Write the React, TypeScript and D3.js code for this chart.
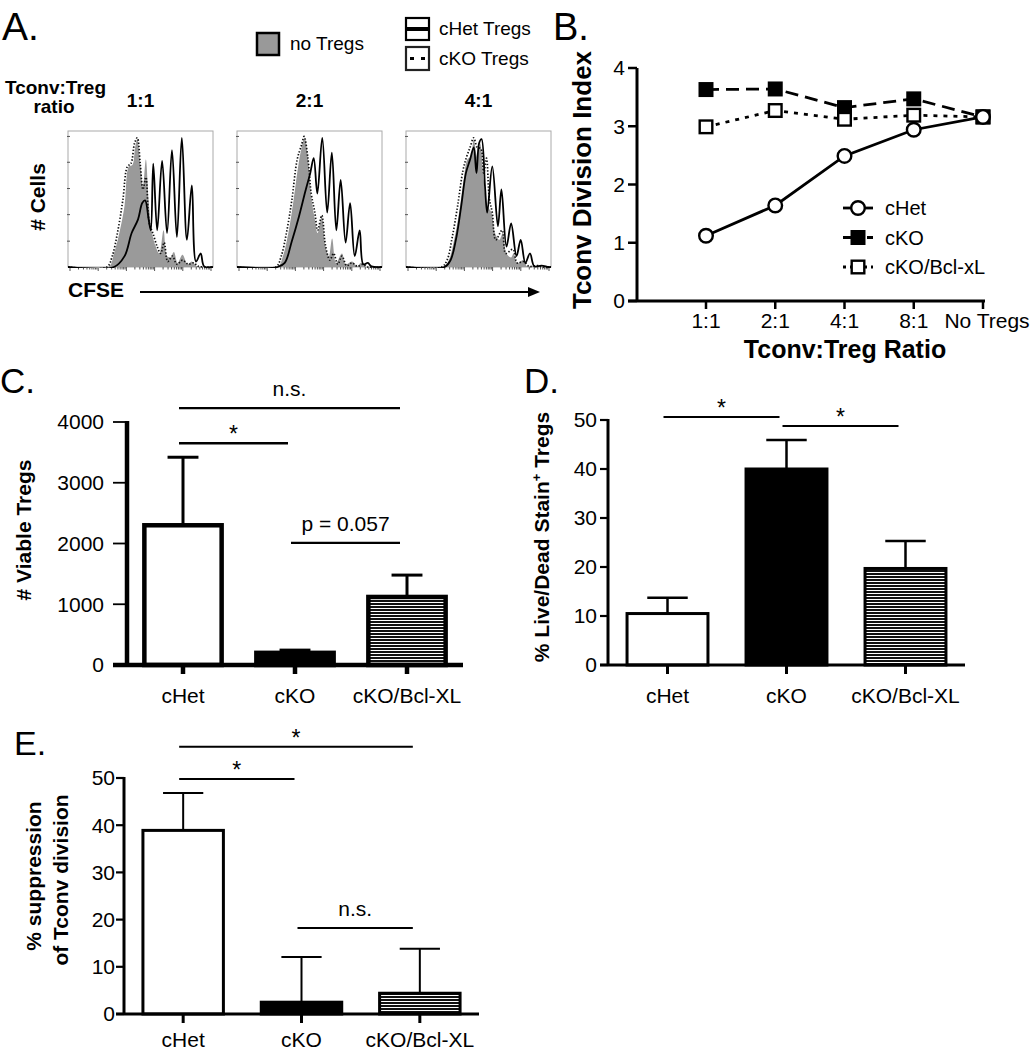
import React from 'react';
import * as d3 from 'd3';

const FONT = '"Liberation Sans", Arial, Helvetica, sans-serif';
type Pt = [number, number];

// ---------------- Panel A: CFSE histograms (x = fraction of CFSE axis, y = fraction of max count)
const histRatios = ['1:1', '2:1', '4:1'];

const noTregs1to1: Pt[] = [[0, 0], [0.28, 0], [0.317, 0.1], [0.354, 0.25], [0.39, 0.45], [0.42, 0.74], [0.444, 0.75], [0.463, 0.88], [0.478, 0.94], [0.5, 0.74], [0.517, 0.59], [0.537, 0.79], [0.556, 0.49], [0.576, 0.27], [0.605, 0.15], [0.63, 0.1], [0.659, 0.27], [0.683, 0.08], [0.707, 0.07], [0.73, 0.11], [0.756, 0.03], [0.79, 0.09], [0.824, 0.02], [0.853, 0.04], [0.89, 0.005], [0.976, 0], [1, 0]];
const cKO1to1: Pt[] = [[0, 0], [0.268, 0], [0.305, 0.08], [0.341, 0.25], [0.378, 0.49], [0.41, 0.74], [0.434, 0.76], [0.459, 0.91], [0.478, 0.95], [0.498, 0.76], [0.517, 0.57], [0.537, 0.66], [0.561, 0.32], [0.585, 0.25], [0.615, 0.15], [0.639, 0.1], [0.663, 0.18], [0.688, 0.04], [0.72, 0.08], [0.751, 0.02], [0.79, 0.05], [0.83, 0.02], [0.866, 0.03], [0.9, 0.005], [1, 0]];
const cHet1to1: Pt[] = [[0, 0], [0.317, 0], [0.39, 0.08], [0.439, 0.25], [0.483, 0.35], [0.512, 0.47], [0.532, 0.49], [0.556, 0.35], [0.571, 0.27], [0.588, 0.76], [0.615, 0.27], [0.649, 0.78], [0.683, 0.25], [0.717, 0.86], [0.751, 0.22], [0.785, 0.95], [0.82, 0.2], [0.854, 0.6], [0.883, 0.04], [0.915, 0.1], [0.939, 0.005], [1, 0]];

const noTregs2to1: Pt[] = [[0, 0], [0.28, 0], [0.317, 0.08], [0.354, 0.25], [0.39, 0.49], [0.422, 0.74], [0.446, 0.88], [0.466, 0.95], [0.49, 0.79], [0.515, 0.49], [0.537, 0.35], [0.556, 0.25], [0.585, 0.37], [0.61, 0.15], [0.634, 0.08], [0.656, 0.21], [0.683, 0.03], [0.724, 0.1], [0.749, 0.02], [0.793, 0.04], [0.83, 0.005], [0.854, 0.03], [0.89, 0], [1, 0]];
const cKO2to1: Pt[] = [[0, 0], [0.268, 0], [0.305, 0.08], [0.341, 0.25], [0.378, 0.49], [0.415, 0.79], [0.446, 0.9], [0.463, 0.96], [0.488, 0.81], [0.512, 0.54], [0.537, 0.4], [0.556, 0.27], [0.585, 0.38], [0.61, 0.16], [0.641, 0.05], [0.666, 0.1], [0.695, 0.02], [0.724, 0.08], [0.756, 0.01], [0.793, 0.03], [0.83, 0.005], [0.866, 0.02], [0.9, 0], [1, 0]];
const cHet2to1: Pt[] = [[0, 0], [0.28, 0], [0.329, 0.03], [0.378, 0.19], [0.427, 0.37], [0.471, 0.555], [0.505, 0.69], [0.529, 0.8], [0.554, 0.54], [0.588, 0.95], [0.622, 0.4], [0.654, 0.84], [0.685, 0.27], [0.715, 0.64], [0.749, 0.18], [0.78, 0.47], [0.812, 0.08], [0.846, 0.27], [0.871, 0.02], [0.902, 0.03], [0.927, 0.005], [1, 0]];

const noTregs4to1: Pt[] = [[0, 0], [0.258, 0], [0.295, 0.05], [0.332, 0.2], [0.369, 0.42], [0.398, 0.64], [0.423, 0.79], [0.447, 0.81], [0.467, 0.94], [0.491, 0.81], [0.511, 0.91], [0.536, 0.64], [0.56, 0.45], [0.59, 0.4], [0.614, 0.25], [0.644, 0.2], [0.668, 0.25], [0.693, 0.1], [0.725, 0.07], [0.742, 0.1], [0.767, 0.03], [0.806, 0.05], [0.835, 0.005], [0.885, 0.01], [0.934, 0], [1, 0]];
const cKO4to1: Pt[] = [[0, 0], [0.246, 0], [0.283, 0.05], [0.319, 0.22], [0.356, 0.45], [0.393, 0.71], [0.418, 0.81], [0.442, 0.88], [0.467, 0.95], [0.491, 0.88], [0.516, 0.87], [0.536, 0.69], [0.555, 0.8], [0.575, 0.5], [0.595, 0.4], [0.619, 0.2], [0.663, 0.27], [0.688, 0.1], [0.737, 0.13], [0.767, 0.03], [0.811, 0.04], [0.848, 0.005], [0.909, 0.01], [0.946, 0], [1, 0]];
const cHet4to1: Pt[] = [[0, 0], [0.265, 0], [0.307, 0.05], [0.344, 0.2], [0.381, 0.45], [0.413, 0.69], [0.442, 0.79], [0.467, 0.88], [0.486, 0.69], [0.504, 0.91], [0.521, 0.94], [0.545, 0.59], [0.56, 0.4], [0.595, 0.74], [0.634, 0.3], [0.658, 0.57], [0.693, 0.15], [0.725, 0.32], [0.762, 0.08], [0.791, 0.2], [0.823, 0.03], [0.855, 0.1], [0.885, 0.005], [0.934, 0.01], [0.983, 0], [1, 0]];

const countTicks = [0.19, 0.385, 0.577, 0.77, 0.96];

// ---------------- Panel B: division index
const ratioCats = ['1:1', '2:1', '4:1', '8:1', 'No Tregs'];
const divCHet = [1.12, 1.64, 2.49, 2.94, 3.16];
const divCKO = [3.63, 3.64, 3.32, 3.47, 3.16];
const divCKOBcl = [2.99, 3.27, 3.12, 3.19, 3.16];
const divTicks = [0, 1, 2, 3, 4];

// ---------------- Panels C, D, E
const groups = ['cHet', 'cKO', 'cKO/Bcl-XL'];
const viableMean = [2300, 200, 1120];
const viableSem = [1120, 45, 360];
const viableTicks = [0, 1000, 2000, 3000, 4000];
const viableSig = [
  { a: 0, b: 2, y: 4230, label: 'n.s.' },
  { a: 0, b: 1, y: 3650, label: '*' },
  { a: 1, b: 2, y: 2010, label: 'p = 0.057' },
];
const deadMean = [10.5, 40, 19.7];
const deadSem = [3.2, 5.9, 5.6];
const pctTicks = [0, 10, 20, 30, 40, 50];
const deadSig = [
  { a: 0, b: 1, y: 50.6, label: '*' },
  { a: 1, b: 2, y: 48.8, label: '*' },
];
const suppMean = [38.9, 2.5, 4.4];
const suppSem = [7.9, 9.6, 9.4];
const suppSig = [
  { a: 0, b: 2, y: 56.6, label: '*' },
  { a: 0, b: 1, y: 49.8, label: '*' },
  { a: 1, b: 2, y: 18.2, label: 'n.s.' },
];

// ---------------- layout
const A_BOX_X = [68, 237, 406];
const A_BOX_W = 145;
const A_TOP = 131;
const A_BOT = 267;

function PanelA() {
  const sets = [
    { none: noTregs1to1, het: cHet1to1, ko: cKO1to1 },
    { none: noTregs2to1, het: cHet2to1, ko: cKO2to1 },
    { none: noTregs4to1, het: cHet4to1, ko: cKO4to1 },
  ];
  return (
    <g>
      <text x={2} y={40} fontSize={39}>A.</text>
      {/* legend */}
      <rect x={257} y={33} width={22} height={22} fill="#999" stroke="#000" strokeWidth={2.5} />
      <text x={290} y={50} fontSize={19}>no Tregs</text>
      <rect x={406} y={18} width={23} height={22} fill="#fff" stroke="#000" strokeWidth={2.2} />
      <line x1={406} x2={429} y1={29} y2={29} stroke="#000" strokeWidth={4} />
      <text x={439} y={35} fontSize={19}>cHet Tregs</text>
      <rect x={406} y={47} width={23} height={23} fill="#fff" stroke="#222" strokeWidth={2.2} />
      <rect x={410} y={57} width={4} height={3} fill="#000" />
      <rect x={421} y={57} width={4} height={3} fill="#000" />
      <text x={439} y={65} fontSize={19}>cKO Tregs</text>

      <text x={5} y={94} fontSize={19} fontWeight="bold">Tconv:Treg</text>
      <text x={54} y={113} fontSize={19} fontWeight="bold" textAnchor="middle">ratio</text>

      <text transform={`translate(38,197) rotate(-90)`} dy="0.35em" textAnchor="middle" fontSize={21} fontWeight="bold"># Cells</text>

      {sets.map((s, i) => {
        const bx = A_BOX_X[i];
        const hx = d3.scaleLinear().domain([0, 1]).range([bx, bx + A_BOX_W]);
        const hy = d3.scaleLinear().domain([0, 1]).range([A_BOT, A_TOP]);
        const curve = d3.curveCatmullRom.alpha(0.5);
        const area = d3.area<Pt>().x((d) => hx(d[0])).y0(hy(0)).y1((d) => hy(d[1])).curve(curve);
        const line = d3.line<Pt>().x((d) => hx(d[0])).y((d) => hy(d[1])).curve(curve);
        const lx = d3.scaleLog().domain([1, 1e5]).range([bx + 2, bx + A_BOX_W - 2]);
        const lticks = lx.ticks();
        const clipId = `hclip${i}`;
        return (
          <g key={i}>
            <clipPath id={clipId}>
              <rect x={bx} y={A_TOP - 2} width={A_BOX_W} height={A_BOT - A_TOP + 3} />
            </clipPath>
            <text x={bx + A_BOX_W / 2} y={107} textAnchor="middle" fontSize={19} fontWeight="bold">{histRatios[i]}</text>
            <rect x={bx} y={A_TOP} width={A_BOX_W} height={A_BOT - A_TOP} fill="#fff" stroke="#aaa" strokeWidth={1} />
            {countTicks.map((t) => (
              <line key={t} x1={bx - 1} x2={bx + 2} y1={hy(t)} y2={hy(t)} stroke="#555" strokeWidth={1} />
            ))}
            {lticks.map((t, k) => {
              const major = Math.abs(Math.log10(t) - Math.round(Math.log10(t))) < 1e-9;
              return <line key={k} x1={lx(t)} x2={lx(t)} y1={A_BOT} y2={A_BOT + (major ? 4 : 2.5)} stroke="#555" strokeWidth={1} />;
            })}
            <g clipPath={`url(#${clipId})`}>
              <path d={area(s.none) || ''} fill="#9a9a9a" />
              <path d={line(s.ko) || ''} fill="none" stroke="#111" strokeWidth={1.7} strokeDasharray="1.4 1.8" />
              <path d={line(s.het) || ''} fill="none" stroke="#000" strokeWidth={1.8} />
            </g>
          </g>
        );
      })}

      <text x={68} y={297} fontSize={21} fontWeight="bold">CFSE</text>
      <line x1={140} x2={530} y1={292} y2={292} stroke="#000" strokeWidth={2} />
      <polygon points="528,287 540,292 528,297" fill="#000" />
    </g>
  );
}

function marker(kind: string, cx: number, cy: number, key?: string) {
  if (kind === 'circle') {
    return <circle key={key} cx={cx} cy={cy} r={6.8} fill="#fff" stroke="#000" strokeWidth={2.4} />;
  }
  const filled = kind === 'sqFilled';
  return <rect key={key} x={cx - 6.3} y={cy - 6.3} width={12.6} height={12.6} fill={filled ? '#000' : '#fff'} stroke="#000" strokeWidth={2.4} />;
}

function PanelB() {
  const x = d3.scalePoint<string>().domain(ratioCats).range([706, 983]);
  const y = d3.scaleLinear().domain([0, 4]).range([301, 68]);
  const series = [
    { name: 'cKO', values: divCKO, dash: '13 7', kind: 'sqFilled' },
    { name: 'cKO/Bcl-xL', values: divCKOBcl, dash: '4 6', kind: 'sqOpen' },
    { name: 'cHet', values: divCHet, dash: '', kind: 'circle' },
  ];
  const legend = [series[2], series[0], series[1]];
  const line = d3.line<number>().x((_, i) => x(ratioCats[i]) as number).y((d) => y(d));
  return (
    <g>
      <text x={553} y={40} fontSize={38}>B.</text>
      <line x1={637} x2={637} y1={y(4)} y2={y(0)} stroke="#000" strokeWidth={3} />
      <line x1={628} x2={985} y1={y(0)} y2={y(0)} stroke="#000" strokeWidth={3} />
      {divTicks.map((t) => (
        <g key={t}>
          <line x1={628} x2={637} y1={y(t)} y2={y(t)} stroke="#000" strokeWidth={2.5} />
          <text x={625} y={y(t)} dy="0.35em" textAnchor="end" fontSize={21}>{t}</text>
        </g>
      ))}
      {ratioCats.map((c) => (
        <g key={c}>
          <line x1={x(c)} x2={x(c)} y1={y(0)} y2={y(0) + 8} stroke="#000" strokeWidth={2.5} />
          <text x={(x(c) as number) + (c === 'No Tregs' ? 4 : 0)} y={328} textAnchor="middle" fontSize={21}>{c}</text>
        </g>
      ))}
      {series.map((s) => (
        <g key={s.name}>
          <path d={line(s.values) || ''} fill="none" stroke="#000" strokeWidth={2.8} strokeDasharray={s.dash || undefined} />
          {s.values.map((v, i) => marker(s.kind, x(ratioCats[i]) as number, y(v), s.name + i))}
        </g>
      ))}
      {legend.map((s, i) => {
        const ly = 208 + i * 29.5;
        return (
          <g key={s.name}>
            <line x1={843} x2={873} y1={ly} y2={ly} stroke="#000" strokeWidth={2.8} strokeDasharray={s.dash ? (s.dash === '13 7' ? '9 3' : '3 4') : undefined} />
            {marker(s.kind, 858, ly)}
            <text x={885} y={ly} dy="0.35em" fontSize={20}>{s.name}</text>
          </g>
        );
      })}
      <text transform={`translate(582,180) rotate(-90)`} dy="0.35em" textAnchor="middle" fontSize={26} fontWeight="bold">Tconv Division Index</text>
      <text x={845} y={358} textAnchor="middle" fontSize={25} fontWeight="bold">Tconv:Treg Ratio</text>
    </g>
  );
}

type Sig = { a: number; b: number; y: number; label: string };
type BarCfg = {
  x0: number; x1: number; yTop: number; yBot: number; max: number; pad: number;
  axisW: number; barW: number; errW: number; tickLen: number; tickW: number; xtickW: number;
  labelRight: number; catBaseline: number; capFrac: number; sigW: number;
};

function BarPanel({ cfg, means, sems, ticks, sig, title, titleX, titleY, titleSize, ylab }: {
  cfg: BarCfg; means: number[]; sems: number[]; ticks: number[]; sig: Sig[];
  title: string; titleX: number; titleY: number; titleSize: number; ylab: React.ReactNode;
}) {
  const y = d3.scaleLinear().domain([0, cfg.max]).range([cfg.yBot, cfg.yTop]);
  const x = d3.scaleBand<string>().domain(groups).range([cfg.x0, cfg.x1]).paddingInner(cfg.pad).paddingOuter(cfg.pad / 2);
  const bw = x.bandwidth();
  const cx = (g: string) => (x(g) as number) + bw / 2;
  const fills = ['#fff', '#000', 'url(#hatch)'];
  return (
    <g>
      <text x={titleX} y={titleY} fontSize={titleSize}>{title}</text>
      {groups.map((g, i) => (
        <g key={g}>
          <line x1={cx(g)} x2={cx(g)} y1={y(means[i])} y2={y(means[i] + sems[i])} stroke="#000" strokeWidth={cfg.errW} />
          <line x1={cx(g) - bw * cfg.capFrac / 2} x2={cx(g) + bw * cfg.capFrac / 2} y1={y(means[i] + sems[i])} y2={y(means[i] + sems[i])} stroke="#000" strokeWidth={cfg.errW} />
          <rect x={x(g)} y={y(means[i])} width={bw} height={cfg.yBot - y(means[i])} fill={fills[i]} stroke="#000" strokeWidth={cfg.barW} />
        </g>
      ))}
      <line x1={cfg.x0} x2={cfg.x0} y1={cfg.yTop - 1} y2={cfg.yBot} stroke="#000" strokeWidth={cfg.axisW} />
      <line x1={cfg.x0 - cfg.tickLen} x2={cfg.x1} y1={cfg.yBot} y2={cfg.yBot} stroke="#000" strokeWidth={cfg.axisW} />
      {ticks.map((t) => (
        <g key={t}>
          <line x1={cfg.x0 - cfg.tickLen} x2={cfg.x0} y1={y(t)} y2={y(t)} stroke="#000" strokeWidth={cfg.tickW} />
          <text x={cfg.labelRight} y={y(t)} dy="0.35em" textAnchor="end" fontSize={21}>{t}</text>
        </g>
      ))}
      {groups.map((g) => (
        <g key={g}>
          <line x1={cx(g)} x2={cx(g)} y1={cfg.yBot} y2={cfg.yBot + 9} stroke="#000" strokeWidth={cfg.xtickW} />
          <text x={cx(g)} y={cfg.catBaseline} textAnchor="middle" fontSize={21}>{g}</text>
        </g>
      ))}
      {sig.map((s, i) => {
        const xa = cx(groups[s.a]) - 4;
        const xb = cx(groups[s.b]) - 7;
        const yy = y(s.y);
        const star = s.label === '*';
        return (
          <g key={i}>
            <line x1={xa} x2={xb} y1={yy} y2={yy} stroke="#000" strokeWidth={cfg.sigW} />
            <text x={(xa + xb) / 2} y={star ? yy - 1 : yy - 12} textAnchor="middle" fontSize={star ? 23 : 21}>{s.label}</text>
          </g>
        );
      })}
      {ylab}
    </g>
  );
}

const cfgC: BarCfg = { x0: 127, x1: 463, yTop: 422, yBot: 665, max: 4000, pad: 0.31, axisW: 4.5, barW: 4.5, errW: 3, tickLen: 14, tickW: 1.8, xtickW: 4.5, labelRight: 104, catBaseline: 703, capFrac: 0.4, sigW: 2.3 };
const cfgD: BarCfg = { x0: 608, x1: 965, yTop: 420, yBot: 665, max: 50, pad: 0.32, axisW: 3, barW: 3, errW: 2.5, tickLen: 8, tickW: 2.2, xtickW: 3, labelRight: 597, catBaseline: 703, capFrac: 0.5, sigW: 2 };
const cfgE: BarCfg = { x0: 124, x1: 479, yTop: 778, yBot: 1014, max: 50, pad: 0.32, axisW: 3, barW: 3, errW: 2, tickLen: 8, tickW: 2.2, xtickW: 3, labelRight: 115, catBaseline: 1047, capFrac: 0.5, sigW: 2 };

function RotLabel({ cx, cy, children, size = 21 }: { cx: number; cy: number; children: React.ReactNode; size?: number }) {
  return (
    <text transform={`translate(${cx},${cy}) rotate(-90)`} dy="0.35em" textAnchor="middle" fontSize={size} fontWeight="bold">{children}</text>
  );
}

export default function App() {
  return (
    <div style={{ position: 'absolute', left: 0, top: 0 }}>
      <svg width={1035} height={1050} fontFamily={FONT} style={{ display: 'block', background: '#fff' }}>
        <defs>
          <pattern id="hatch" patternUnits="userSpaceOnUse" width={8} height={3}>
            <rect width={8} height={3} fill="#fff" />
            <rect width={8} height={2} fill="#111" />
          </pattern>
        </defs>
        <rect width={1035} height={1050} fill="#fff" />
        <PanelA />
        <PanelB />
        <BarPanel cfg={cfgC} means={viableMean} sems={viableSem} ticks={viableTicks} sig={viableSig}
          title="C." titleX={0} titleY={393} titleSize={35}
          ylab={<RotLabel cx={24} cy={530}># Viable Tregs</RotLabel>} />
        <BarPanel cfg={cfgD} means={deadMean} sems={deadSem} ticks={pctTicks} sig={deadSig}
          title="D." titleX={524} titleY={393} titleSize={35}
          ylab={
            <text transform={`translate(542,537) rotate(-90)`} dy="0.35em" textAnchor="middle" fontSize={21} fontWeight="bold">
              <tspan>% Live/Dead Stain</tspan>
              <tspan fontSize={13} dy={-8}>+</tspan>
              <tspan dy={8}> Tregs</tspan>
            </text>
          } />
        <BarPanel cfg={cfgE} means={suppMean} sems={suppSem} ticks={pctTicks} sig={suppSig}
          title="E." titleX={14} titleY={755} titleSize={34}
          ylab={
            <g>
              <RotLabel cx={34} cy={876}>% suppression</RotLabel>
              <RotLabel cx={61} cy={880}>of Tconv division</RotLabel>
            </g>
          } />
      </svg>
    </div>
  );
}
